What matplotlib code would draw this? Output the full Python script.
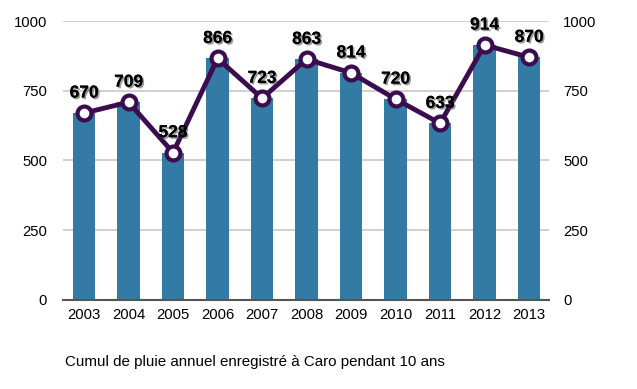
import matplotlib
matplotlib.use('Agg')
from matplotlib import pyplot as plt
import matplotlib.patheffects as pe
import numpy as np

years = ['2003', '2004', '2005', '2006', '2007', '2008', '2009', '2010', '2011', '2012', '2013']
rain = [670, 709, 528, 866, 723, 863, 814, 720, 633, 914, 870]

plt.rcParams['font.family'] = ['Liberation Sans', 'DejaVu Sans']

fig = plt.figure(figsize=(6.37, 3.89), dpi=100)
ax = fig.add_axes([0.099, 0.229, 0.763, 0.717])

x = np.arange(len(years))
ax.bar(x, rain, width=0.5, color='#337ba4', zorder=2)
ax.plot(x, rain, color='#3c0d4e', lw=3.5, marker='o', markersize=10,
        markerfacecolor='white', markeredgecolor='#3c0d4e', markeredgewidth=3, zorder=3)

shadow = [pe.withSimplePatchShadow(offset=(1.2, -1.2), shadow_rgbFace='#555555', alpha=0.6), pe.Normal()]
for xi, v in zip(x, rain):
    ax.annotate(str(v), (xi, v), xytext=(0, 9), textcoords='offset points',
                ha='center', va='bottom', fontsize=12.5, fontweight='bold',
                color='black', path_effects=shadow, zorder=4)

ax.set_xlim(-0.472, 10.45)
ax.set_ylim(0, 1000)
ax.set_yticks([0, 250, 500, 750, 1000])
ax.set_xticks(x)
ax.set_xticklabels(years)
ax.grid(axis='y', color='#c8c8c8', lw=1.2, zorder=0)
for s in ['top', 'right', 'left']:
    ax.spines[s].set_visible(False)
ax.spines['bottom'].set_color('#555555')
ax.spines['bottom'].set_linewidth(1.5)
ax.tick_params(axis='both', length=0, labelsize=10.7, colors='black')
ax.tick_params(axis='y', pad=11.5)
ax.tick_params(axis='x', pad=6)

ax2 = ax.twinx()
ax2.set_ylim(0, 1000)
ax2.set_yticks([0, 250, 500, 750, 1000])
for s in ['top', 'right', 'left', 'bottom']:
    ax2.spines[s].set_visible(False)
ax2.tick_params(axis='y', length=0, labelsize=10.7, pad=10)

fig.text(0.102, 0.069, 'Cumul de pluie annuel enregistré à Caro pendant 10 ans',
         fontsize=10.9, va='center')

fig.savefig('out.png', dpi=100)
